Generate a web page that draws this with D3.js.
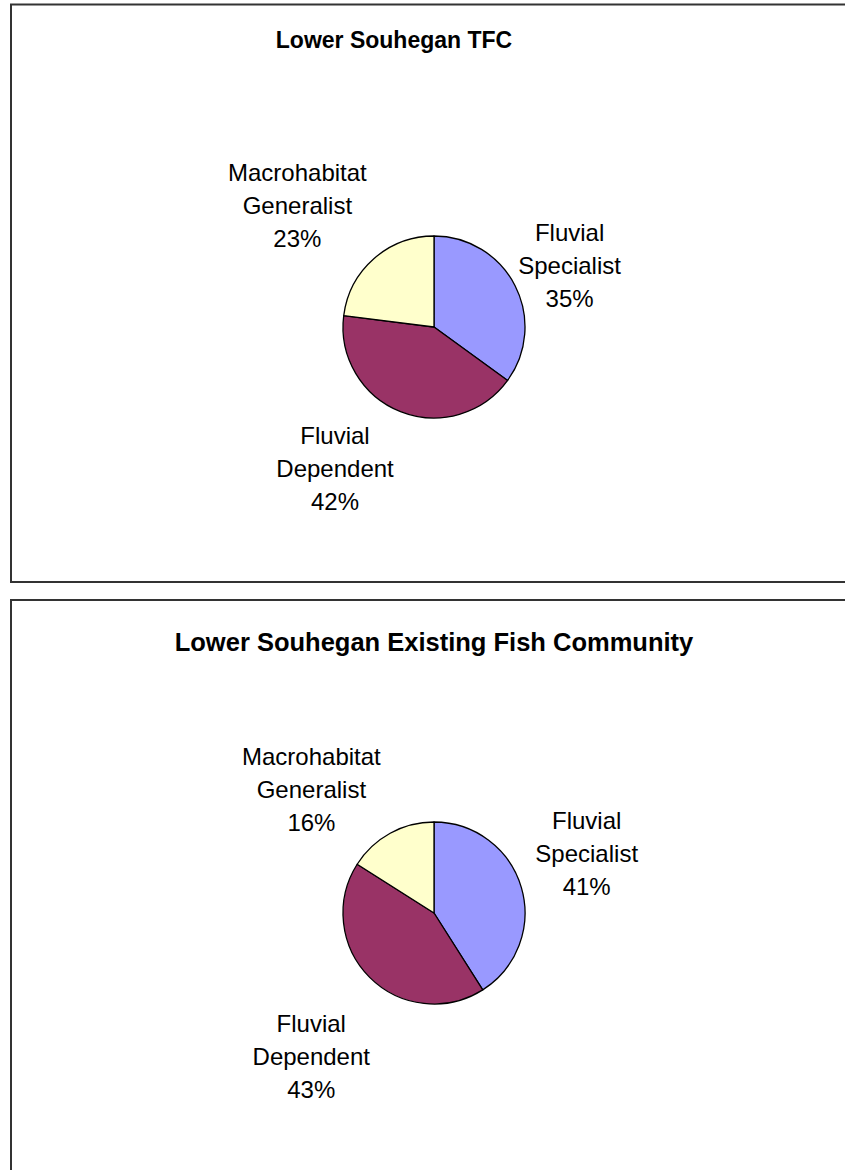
<!DOCTYPE html>
<html>
<head>
<meta charset="utf-8">
<script src="https://cdn.jsdelivr.net/npm/d3@7"></script>
<style>
    body { margin: 0; background: #fff; }
    svg { display: block; font-family: "Liberation Sans", Arial, sans-serif; }
</style>
</head>
<body>
<svg id="chart" width="845" height="1170"></svg>
<script>
var categories = ['Fluvial Specialist', 'Fluvial Dependent', 'Macrohabitat Generalist'];
var labelLines = [['Fluvial', 'Specialist'], ['Fluvial', 'Dependent'], ['Macrohabitat', 'Generalist']];
var tfcValues = [35, 42, 23];
var existingValues = [41, 43, 16];
var chartTitles = ['Lower Souhegan TFC', 'Lower Souhegan Existing Fish Community'];
var sliceColors = ['#9999ff', '#993366', '#ffffcc'];

(function() {
    var svg = d3.select('#chart'),
        radius = 91,
        cx = 434,
        lineHeight = 33,
        labelSize = 24;

    // label placement (Excel "best fit" pushes them around a bit)
    var panels = [
        {title: chartTitles[0], values: tfcValues, top: 4.5, bottom: 582, titleX: 394, titleY: 48, titleSize: 23, cy: 327,
            labelShift: [2.5, 13.3, -6.9], labelDist: [149, 173, 183]},
        {title: chartTitles[1], values: existingValues, top: 600, bottom: 1200, titleX: 434, titleY: 651, titleSize: 25.5, cy: 913,
            labelShift: [-5.2, -4.5, -16], labelDist: [164, 189, 174]}
    ];

    var color = d3.scaleOrdinal().domain(categories).range(sliceColors),
        pct = d3.format('.0%'),
        pie = d3.pie().sort(null).value(function(d) { return d.value; }),
        arc = d3.arc().innerRadius(0).outerRadius(radius);

    panels.forEach(function(p) {
        var g = svg.append('g');

        g.append('rect')
            .attr('x', 11).attr('y', p.top)
            .attr('width', 900).attr('height', p.bottom - p.top)
            .attr('fill', '#fff').attr('stroke', '#333').attr('stroke-width', 2);

        g.append('text')
            .attr('x', p.titleX).attr('y', p.titleY)
            .attr('text-anchor', 'middle')
            .attr('font-size', p.titleSize).attr('font-weight', 'bold')
            .text(p.title);

        var rows = categories.map(function(c, i) { return {name: c, value: p.values[i], idx: i}; }),
            total = d3.sum(p.values),
            arcs = pie(rows);

        var pieG = g.append('g').attr('transform', 'translate(' + cx + ',' + p.cy + ')');

        pieG.selectAll('path').data(arcs).enter().append('path')
            .attr('d', arc)
            .attr('fill', function(d) { return color(d.data.name); })
            .attr('stroke', '#000').attr('stroke-width', 1.3)
            .attr('stroke-linejoin', 'round');

        pieG.selectAll('text.lbl').data(arcs).enter().append('text')
            .attr('class', 'lbl')
            .attr('text-anchor', 'middle')
            .attr('font-size', labelSize)
            .each(function(d) {
                var i = d.data.idx,
                    a = (d.startAngle + d.endAngle) / 2 + p.labelShift[i] * Math.PI / 180,
                    x = p.labelDist[i] * Math.sin(a),
                    y = -p.labelDist[i] * Math.cos(a),
                    lines = labelLines[i].concat([pct(d.data.value / total)]),
                    t = d3.select(this);
                lines.forEach(function(line, k) {
                    t.append('tspan')
                        .attr('x', x)
                        .attr('y', y + (k - 1) * lineHeight + labelSize * 0.35)
                        .text(line);
                });
            });
    });
})();
</script>
</body>
</html>
